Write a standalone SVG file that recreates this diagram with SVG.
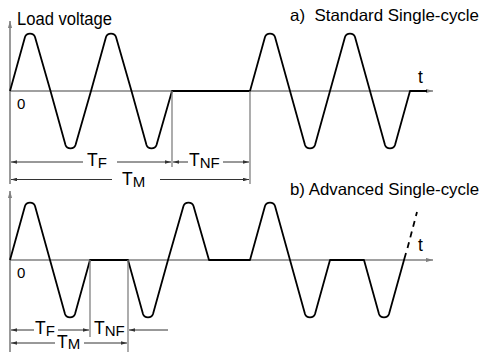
<svg xmlns="http://www.w3.org/2000/svg" width="483" height="352" viewBox="0 0 483 352">
<style>
text{font-family:"Liberation Sans",Arial,sans-serif;fill:#000}
.lbl{font-size:17.5px}
.ttl{font-size:16.5px}
.dim{font-size:17.5px}
.sub{font-size:15px}
.zero{font-size:15px}
.axis{stroke:#808080;stroke-width:1.6;fill:none}
.wave{stroke:#000;stroke-width:1.8;fill:none;stroke-linejoin:round}
.dl{stroke:#333;stroke-width:1;fill:none}
.gl{stroke:#808080;stroke-width:1.3;fill:none}
</style>
<defs>
<marker id="ah" viewBox="0 0 10 6" refX="10" refY="3" markerWidth="6" markerHeight="3.6" markerUnits="userSpaceOnUse" orient="auto-start-reverse">
<path d="M0,0 L10,3 L0,6 Z" fill="#333"/>
</marker>
<marker id="ax" viewBox="0 0 10 6" refX="10" refY="3" markerWidth="7" markerHeight="4.2" markerUnits="userSpaceOnUse" orient="auto">
<path d="M0,0 L10,3 L0,6 Z" fill="#808080"/>
</marker>
</defs>

<g id="axes">
<line class="axis" x1="10" y1="184" x2="10" y2="21" marker-end="url(#ax)"/>
<line class="axis" x1="10" y1="91" x2="433" y2="91" marker-end="url(#ax)"/>
<line class="axis" x1="10" y1="352" x2="10" y2="191" marker-end="url(#ax)"/>
<line class="axis" x1="10" y1="260" x2="433" y2="260" marker-end="url(#ax)"/>
</g>

<g id="wave-a">
<path class="wave" d="M10,91 L25,37 C26.5,32.5 33.5,32.5 35,37 L50.5,91 L65.5,145 C67,149.5 74,149.5 75.5,145 L91,91 L106,37 C107.5,32.5 114.5,32.5 116,37 L131.5,91 L146.5,145 C148,149.5 155,149.5 156.5,145 L172,91 L250,91 L265,37 C266.5,32.5 273.5,32.5 275,37 L290,91 L305,145 C306.5,149.5 313.5,149.5 315,145 L330,91 L345,37 C346.5,32.5 353.5,32.5 355,37 L370,91 L385,145 C386.5,149.5 393.5,149.5 395,145 L410,91 L427,91"/>
</g>

<g id="wave-b">
<path class="wave" d="M10,260 L25,206 C26.5,201.5 33.5,201.5 35,206 L50,260 L65,314 C66.5,318.5 73.5,318.5 75,314 L90,260 L128,260 L143,314 C144.5,318.5 151.5,318.5 153,314 L168,260 L183.5,206 C185,201.5 192,201.5 193.5,206 L209,260 L250,260 L265,206 C266.5,201.5 273.5,201.5 275,206 L290,260 L305,314 C306.5,318.5 313.5,318.5 315,314 L330,260 L364,260 L379,314 C380.5,318.5 387.5,318.5 389,314 L404,260 L406,253"/>
<path class="wave" d="M407.5,248 L417,212" stroke-dasharray="6,5" stroke-width="1.6"/>
</g>

<g id="connectors">
<line class="gl" x1="172" y1="91" x2="172" y2="167"/>
<line class="gl" x1="250" y1="91" x2="250" y2="184"/>
<line class="gl" x1="90" y1="260" x2="90" y2="337"/>
<line class="gl" x1="128" y1="260" x2="128" y2="352"/>
<line class="dl" x1="83" y1="162" x2="11" y2="162" marker-end="url(#ah)"/>
<line class="dl" x1="117" y1="162" x2="171" y2="162" marker-end="url(#ah)"/>
<line class="dl" x1="188" y1="162" x2="173" y2="162" marker-end="url(#ah)"/>
<line class="dl" x1="223" y1="162" x2="249" y2="162" marker-end="url(#ah)"/>
<line class="dl" x1="112" y1="179.5" x2="11" y2="179.5" marker-end="url(#ah)"/>
<line class="dl" x1="160" y1="179.5" x2="249" y2="179.5" marker-end="url(#ah)"/>
<line class="dl" x1="34" y1="330" x2="11" y2="330" marker-end="url(#ah)"/>
<line class="dl" x1="58" y1="330" x2="89" y2="330" marker-end="url(#ah)"/>
<line class="dl" x1="168" y1="330" x2="129" y2="330" marker-end="url(#ah)"/>
<line class="dl" x1="55" y1="343" x2="11" y2="343" marker-end="url(#ah)"/>
<line class="dl" x1="84" y1="343" x2="127" y2="343" marker-end="url(#ah)"/>
</g>

<g id="labels">
<text class="lbl" x="17" y="25" textLength="95" lengthAdjust="spacingAndGlyphs">Load voltage</text>
<text class="ttl" x="290" y="21" textLength="189" lengthAdjust="spacingAndGlyphs" xml:space="preserve">a)  Standard Single-cycle</text>
<text class="ttl" x="290" y="195" textLength="189" lengthAdjust="spacingAndGlyphs">b) Advanced Single-cycle</text>
<text class="lbl" x="418" y="83">t</text>
<text class="lbl" x="418" y="251">t</text>
<text class="zero" x="17" y="109">0</text>
<text class="zero" x="17" y="278">0</text>
</g>

<g id="dim-labels">
<text class="dim" x="87" y="166">T<tspan class="sub" dy="1.5">F</tspan></text>
<text class="dim" x="189" y="166">T<tspan class="sub" dy="1.5">NF</tspan></text>
<text class="dim" x="122" y="185">T<tspan class="sub" dy="1.5">M</tspan></text>
<text class="dim" x="35" y="334">T<tspan class="sub" dy="1.5">F</tspan></text>
<text class="dim" x="94" y="334">T<tspan class="sub" dy="1.5">NF</tspan></text>
<text class="dim" x="57" y="348">T<tspan class="sub" dy="1">M</tspan></text>
</g>
</svg>
